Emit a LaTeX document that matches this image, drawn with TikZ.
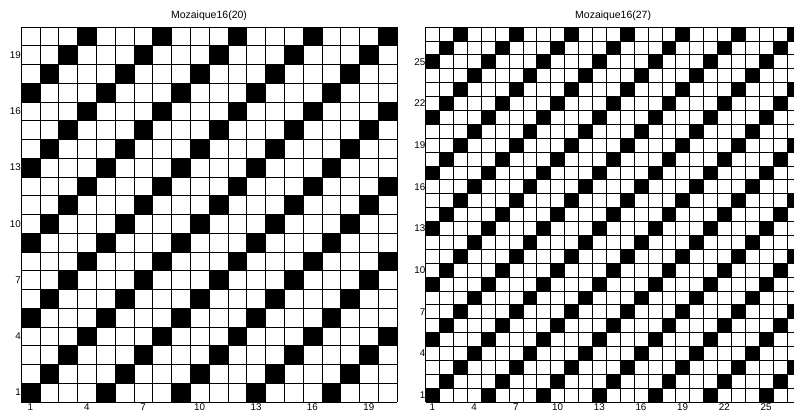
\documentclass[tikz,border=0pt]{standalone}
\usepackage{fontspec}
\setmainfont{Liberation Sans}
\begin{document}
\begin{tikzpicture}[x=1pt,y=1pt,
  ticklab/.style={font=\fontsize{9.8}{11}\selectfont, inner sep=0pt},
  titlelab/.style={font=\fontsize{10.5}{12}\selectfont, inner sep=0pt, anchor=base},
  gridline/.style={draw=black, line width=0.6pt}]
\useasboundingbox (0,0) rectangle (794,414);
\clip (0,0) rectangle (794,414);
% left mosaic, 20 x 20
\begin{scope}[shift={(21,12)}, x=18.8pt, y=18.75pt]
  \foreach \i in {1,...,20} {
    \foreach \j in {1,...,20} {
      \pgfmathtruncatemacro{\r}{mod(\i-\j+40,4)}
      \ifnum\r=0 \fill (\i-1,\j-1) rectangle (\i,\j); \fi
    }
  }
  \foreach \k in {0,...,20} {
    \draw[gridline] (\k,0) -- (\k,20);
    \draw[gridline] (0,\k) -- (20,\k);
  }
  \foreach \k in {1,4,...,19} {
    \node[ticklab, anchor=north, yshift=-1.2pt] (lx\k) at (\k-0.5,0) {\k};
    \node[ticklab, anchor=east] (ly\k) at (0,\k-0.5) {\k};
  }
  \node[titlelab, yshift=8.7pt] (ltitle) at (10,20) {Mozaique16(20)};
\end{scope}
% right mosaic, 27 x 27
\begin{scope}[shift={(425.5,12)}, x=13.9pt, y=13.89pt]
  \foreach \i in {1,...,27} {
    \foreach \j in {1,...,27} {
      \pgfmathtruncatemacro{\r}{mod(\i-\j+60,4)}
      \ifnum\r=0 \fill (\i-1,\j-1) rectangle (\i,\j); \fi
    }
  }
  \foreach \k in {0,...,27} {
    \draw[gridline] (\k,0) -- (\k,27);
    \draw[gridline] (0,\k) -- (27,\k);
  }
  \foreach \k in {1,4,...,25} {
    \node[ticklab, anchor=north, yshift=-1.2pt] (rx\k) at (\k-0.5,0) {\k};
    \node[ticklab, anchor=east] (ry\k) at (0,\k-0.5) {\k};
  }
  \node[titlelab, yshift=8.7pt] (rtitle) at (13.5,27) {Mozaique16(27)};
\end{scope}
\end{tikzpicture}
\end{document}
